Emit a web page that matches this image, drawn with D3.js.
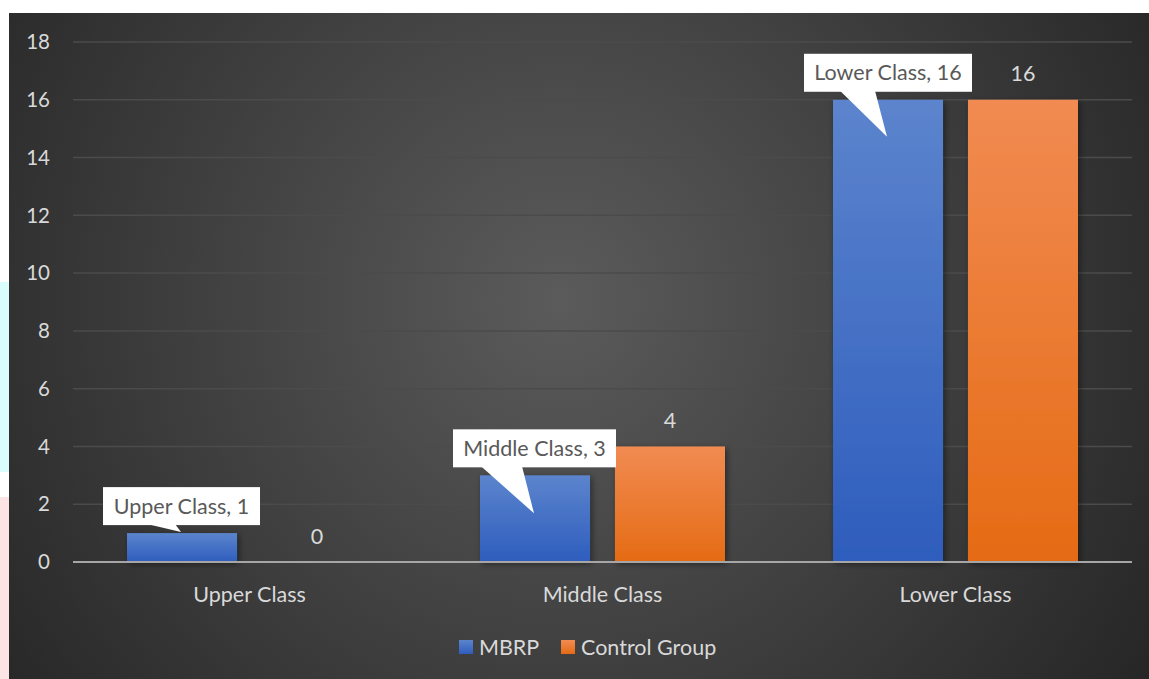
<!DOCTYPE html>
<html><head><meta charset="utf-8">
<script src="https://cdn.jsdelivr.net/npm/d3@7"></script>
<style>html,body{margin:0;padding:0;background:#fff;overflow:hidden}</style>
</head><body>
<svg id="c" width="1149" height="679"></svg>
<script>
const categories = ["Upper Class", "Middle Class", "Lower Class"];
const seriesNames = ["MBRP", "Control Group"];
const mbrp = [1, 3, 16];
const control = [0, 4, 16];
const yTicks = [0, 2, 4, 6, 8, 10, 12, 14, 16, 18];

(function () {
const svg = d3.select("#c");
const defs = svg.append("defs");
const W = 1149, H = 679;
const FONT = "Lato, 'Open Sans', sans-serif";

svg.append("rect").attr("x", 0).attr("y", 282).attr("width", 9).attr("height", 190).attr("fill", "#d9fdfd");
svg.append("rect").attr("x", 0).attr("y", 497).attr("width", 9).attr("height", 182).attr("fill", "#fde4e4");

const bg = defs.append("radialGradient").attr("id", "bg").attr("gradientUnits", "userSpaceOnUse")
  .attr("cx", 560).attr("cy", 300).attr("r", 700);
bg.append("stop").attr("offset", "0%").attr("stop-color", "#5b5b5b");
bg.append("stop").attr("offset", "100%").attr("stop-color", "#262626");
svg.append("rect").attr("x", 9).attr("y", 13).attr("width", W - 9).attr("height", H - 13).attr("fill", "url(#bg)");

function lg(id, t, b) {
  const g = defs.append("linearGradient").attr("id", id).attr("x1", 0).attr("y1", 0).attr("x2", 0).attr("y2", 1);
  g.append("stop").attr("offset", "0%").attr("stop-color", t);
  g.append("stop").attr("offset", "100%").attr("stop-color", b);
}
lg("gb", "#5c84cd", "#2e5dbd");
lg("go", "#f18b52", "#e56b14");
const f = defs.append("filter").attr("id", "sh").attr("x", "-20%").attr("y", "-20%").attr("width", "140%").attr("height", "140%");
f.append("feDropShadow").attr("dx", 2).attr("dy", 2).attr("stdDeviation", 3).attr("flood-color", "#000").attr("flood-opacity", 0.45);

const pl = 73, pr = 1132, pt = 42, pb = 562;
const y = d3.scaleLinear().domain([0, 18]).range([pb, pt]);
const x0 = d3.scaleBand().domain(categories).range([pl, pr]).padding(0);
const x1 = d3.scaleBand().domain(seriesNames).range([54, 299]).paddingInner(0.185).paddingOuter(0);

svg.append("g").selectAll("line").data(yTicks.filter(d => d > 0)).join("line")
  .attr("x1", pl).attr("x2", pr).attr("y1", d => y(d)).attr("y2", d => y(d))
  .attr("stroke", "#4b4b4b").attr("stroke-width", 1.5);

svg.append("g").selectAll("text").data(yTicks).join("text")
  .attr("x", 50).attr("y", d => y(d)).attr("dy", "0.35em").attr("text-anchor", "end")
  .attr("fill", "#d9d9d9").attr("font-family", FONT).attr("font-size", 20.5).text(d => d);

const data = categories.map((c, i) => ({ c, vals: [{ s: "MBRP", v: mbrp[i] }, { s: "Control Group", v: control[i] }] }));
const gcat = svg.append("g").selectAll("g").data(data).join("g").attr("transform", d => `translate(${x0(d.c)},0)`);
gcat.selectAll("rect").data(d => d.vals.filter(e => e.v > 0)).join("rect")
  .attr("x", d => x1(d.s)).attr("width", x1.bandwidth())
  .attr("y", d => y(d.v)).attr("height", d => y(0) - y(d.v))
  .attr("fill", d => d.s === "MBRP" ? "url(#gb)" : "url(#go)")
  .attr("filter", "url(#sh)");

svg.append("line").attr("x1", pl).attr("x2", pr).attr("y1", y(0)).attr("y2", y(0))
  .attr("stroke", "#a6a6a6").attr("stroke-width", 2);

svg.append("g").selectAll("text").data(categories).join("text")
  .attr("x", d => x0(d) + x0.bandwidth() / 2).attr("y", 594).attr("dy", "0.35em").attr("text-anchor", "middle")
  .attr("fill", "#d9d9d9").attr("font-family", FONT).attr("font-size", 21.5).text(d => d);

svg.append("g").selectAll("text").data(categories).join("text")
  .attr("x", (d, i) => x0(d) + x1("Control Group") + x1.bandwidth() / 2)
  .attr("y", (d, i) => y(control[i]) - 26).attr("dy", "0.35em").attr("text-anchor", "middle")
  .attr("fill", "#d9d9d9").attr("font-family", FONT).attr("font-size", 21.5).text((d, i) => control[i]);

const callouts = [
  { dx: -78, w: 157, tail: [-34, -6], tip: -1 },
  { dx: -81, w: 163, tail: [-53, -12], tip: 38 },
  { dx: -83, w: 168, tail: [-47, -12], tip: 37 }
];
categories.forEach((c, i) => {
  const px = x0(c) + x1("MBRP") + x1.bandwidth() / 2 - 1;
  const py = y(mbrp[i]);
  const co = callouts[i];
  const bh = 38;
  const bx = px + co.dx, by = py - 46;
  const g = svg.append("g");
  g.append("path")
    .attr("d", `M${px + co.tail[0]},${by + bh - 1} L${px},${py + co.tip} L${px + co.tail[1]},${by + bh - 1} Z`)
    .attr("fill", "#fff");
  g.append("rect").attr("x", bx).attr("y", by).attr("width", co.w).attr("height", bh).attr("fill", "#fff");
  g.append("text").attr("x", bx + co.w / 2).attr("y", by + bh / 2).attr("dy", "0.35em").attr("text-anchor", "middle")
    .attr("fill", "#595959").attr("font-family", FONT).attr("font-size", 21.5).text(`${c}, ${mbrp[i]}`);
});

const leg = svg.append("g");
const legX = [459, 561];
seriesNames.forEach((s, i) => {
  leg.append("rect").attr("x", legX[i]).attr("y", 640).attr("width", 14).attr("height", 14)
    .attr("fill", i === 0 ? "url(#gb)" : "url(#go)");
  leg.append("text").attr("x", legX[i] + 20).attr("y", 647).attr("dy", "0.35em")
    .attr("fill", "#d9d9d9").attr("font-family", FONT).attr("font-size", 21.5).text(s);
});
})();
</script>
</body></html>
